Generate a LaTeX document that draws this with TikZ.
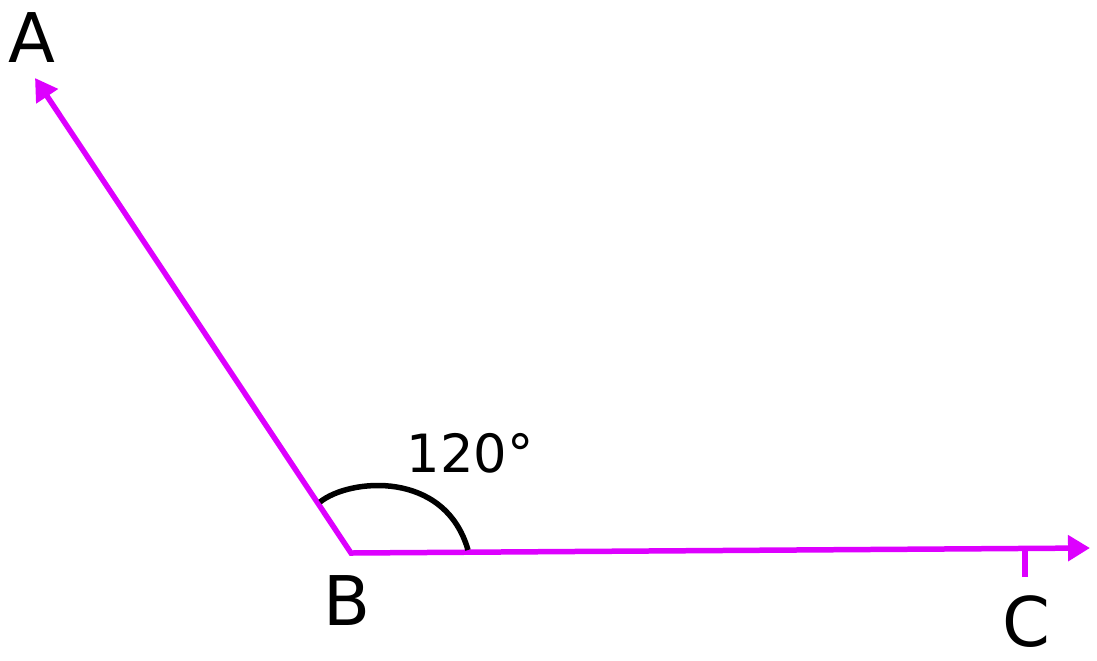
\documentclass[tikz,border=0pt]{standalone}
\usepackage{fontspec}
\setmainfont{DejaVu Sans}
\usepackage{xcolor}
\usetikzlibrary{arrows.meta}
\definecolor{raycol}{RGB}{221,0,255}

\begin{document}
\begin{tikzpicture}[x=0.02cm, y=-0.02cm,
    ray/.style={draw=raycol, line width=0.11cm, line join=miter,
      {Triangle[length=0.44cm, width=0.5cm]}-{Triangle[length=0.44cm, width=0.5cm]}},
    tickmark/.style={draw=raycol, line width=0.11cm},
    anglearc/.style={draw=black, line width=0.11cm},
    point/.style={font=\fontsize{39}{40}\selectfont, anchor=base, inner sep=0pt},
    degree/.style={font=\fontsize{30}{32}\selectfont, anchor=base, inner sep=0pt}]
\useasboundingbox (0,0) rectangle (1097,660);
% vertex and ray ends
\coordinate (vB) at (351,553);
\coordinate (tipA) at (35,78);
\coordinate (tipC) at (1090,548);
\coordinate (tickT) at (1025,549);
\coordinate (tickD) at (1025,577);
\coordinate (arcS) at (320,502);
\coordinate (arcE) at (468,550);
% rays
\draw [ray] (tipA) -- (vB) -- (tipC);
\draw [tickmark] (tickT) -- (tickD);
% angle
\draw [anglearc] (arcS) .. controls (350,478) and (445,470) .. (arcE);
% labels
\node [point] (A) at (32,62) {A};
\node [point] (B) at (347,625) {B};
\node [point] (C) at (1026,646) {C};
\node [degree] (ang) at (470,472) {120°};
\end{tikzpicture}
\end{document}
